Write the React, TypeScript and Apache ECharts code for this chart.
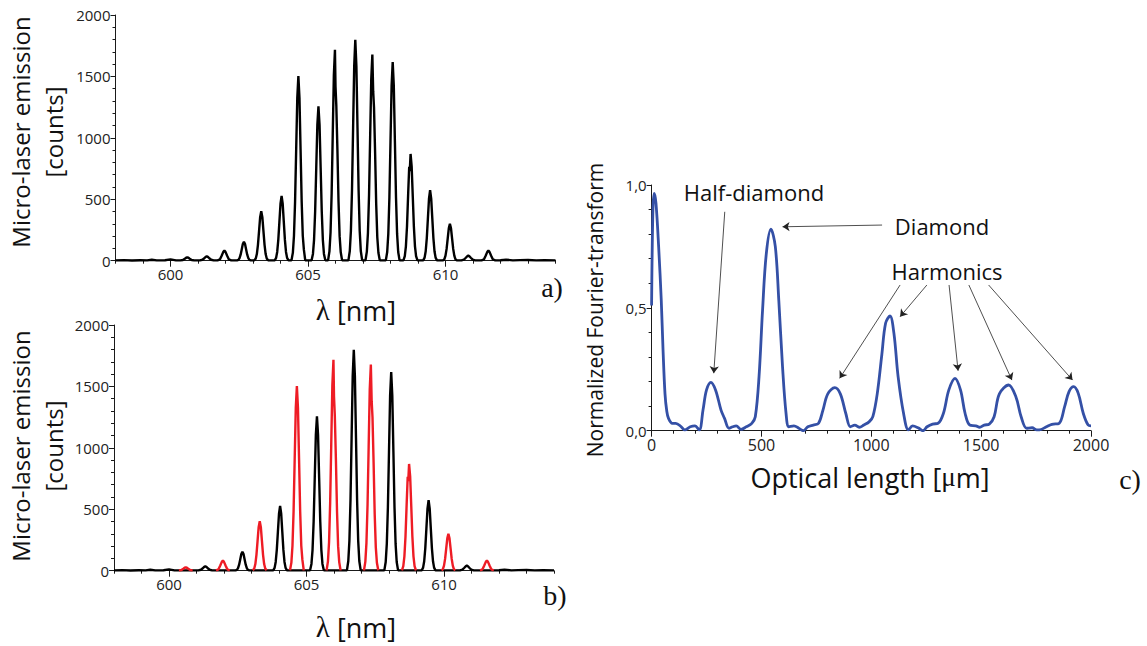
import React, { useEffect, useRef } from 'react';
import * as echarts from 'echarts';

// ---------- Panel a/b : emission spectrum (λ [nm], counts) ----------
const baseline: number[][] = [
  [598.0, 3], [598.3, 5], [598.6, 2], [598.9, 4], [599.15, 3], [599.32, 8], [599.5, 3],
  [599.8, 4], [600.0, 11], [600.2, 3],
  [612.0, 4], [612.2, 8], [612.45, 3], [612.7, 5], [613.0, 6], [613.3, 3], [613.6, 4], [614.0, 3],
];

// peaks drawn red in panel b
const redPeaks: number[][][] = [
  [[600.36, 3], [600.45, 6], [600.52, 16], [600.57, 24], [600.61, 27], [600.65, 24], [600.7, 16], [600.77, 6], [600.86, 3]],
  [[601.71, 3], [601.8, 11], [601.86, 40], [601.92, 72], [601.96, 82], [602.0, 72], [602.06, 40], [602.12, 11], [602.21, 3]],
  [[603.05, 3], [603.1, 18], [603.14, 54], [603.18, 129], [603.22, 241], [603.26, 354], [603.3, 402], [603.34, 354], [603.38, 241], [603.42, 129], [603.46, 54], [603.5, 18], [603.55, 3]],
  [[604.4, 3], [604.45, 66], [604.49, 203], [604.53, 481], [604.57, 902], [604.61, 1323], [604.65, 1503], [604.69, 1323], [604.73, 902], [604.77, 481], [604.81, 203], [604.85, 90], [604.9, 3]],
  [[605.73, 3], [605.78, 76], [605.82, 232], [605.86, 549], [605.9, 1030], [605.94, 1510], [605.98, 1716], [606.0, 1420], [606.03, 1260], [606.07, 900], [606.11, 480], [606.15, 200], [606.19, 70], [606.24, 3]],
  [[607.09, 3], [607.14, 74], [607.18, 227], [607.22, 537], [607.26, 1007], [607.3, 1477], [607.34, 1678], [607.37, 1380], [607.4, 1250], [607.44, 880], [607.48, 460], [607.52, 190], [607.56, 65], [607.61, 3]],
  [[608.47, 3], [608.52, 38], [608.56, 117], [608.6, 278], [608.645, 560], [608.68, 765], [608.7, 730], [608.73, 869], [608.77, 765], [608.81, 522], [608.85, 278], [608.89, 117], [608.93, 38], [608.98, 3]],
  [[609.91, 3], [609.96, 13], [610.0, 41], [610.04, 96], [610.08, 180], [610.12, 264], [610.16, 300], [610.2, 264], [610.24, 180], [610.28, 96], [610.32, 41], [610.36, 13], [610.41, 3]],
  [[611.31, 3], [611.4, 11], [611.46, 40], [611.52, 72], [611.56, 82], [611.6, 72], [611.66, 40], [611.72, 11], [611.81, 3]],
];

// peaks drawn black in panel b
const blackPeaks: number[][][] = [
  [[601.07, 3], [601.16, 8], [601.23, 20], [601.28, 31], [601.32, 35], [601.36, 31], [601.41, 20], [601.48, 8], [601.57, 3]],
  [[602.42, 3], [602.47, 7], [602.51, 21], [602.55, 49], [602.59, 92], [602.63, 135], [602.67, 153], [602.71, 135], [602.75, 92], [602.79, 49], [602.83, 21], [602.87, 7], [602.92, 3]],
  [[603.79, 3], [603.84, 23], [603.88, 71], [603.92, 169], [603.96, 316], [604.0, 464], [604.04, 527], [604.08, 464], [604.12, 316], [604.16, 169], [604.2, 71], [604.24, 23], [604.29, 3]],
  [[605.13, 3], [605.18, 55], [605.22, 170], [605.26, 402], [605.3, 754], [605.34, 1106], [605.38, 1257], [605.42, 1106], [605.46, 754], [605.5, 402], [605.54, 170], [605.58, 55], [605.63, 3]],
  [[606.47, 3], [606.52, 79], [606.56, 243], [606.6, 575], [606.64, 1079], [606.68, 1582], [606.72, 1798], [606.76, 1582], [606.8, 1079], [606.84, 575], [606.88, 243], [606.92, 79], [606.97, 3]],
  [[607.83, 3], [607.88, 71], [607.92, 218], [607.96, 517], [608.0, 970], [608.04, 1423], [608.08, 1617], [608.12, 1423], [608.16, 970], [608.2, 517], [608.24, 218], [608.28, 71], [608.33, 3]],
  [[609.19, 3], [609.24, 25], [609.28, 77], [609.32, 184], [609.36, 344], [609.4, 505], [609.44, 574], [609.48, 505], [609.52, 344], [609.56, 184], [609.6, 77], [609.64, 25], [609.69, 3]],
  [[610.58, 3], [610.67, 9], [610.74, 24], [610.79, 36], [610.83, 41], [610.87, 36], [610.92, 24], [610.99, 9], [611.08, 3]],
];

const lambdaLabels = [600, 605, 610];

// ---------- Panel c : normalized Fourier transform ----------
const fourier: number[][] = [
  [0, 0.51], [6, 0.9], [12, 0.966], [20, 0.925], [32, 0.75], [44, 0.53], [52, 0.33], [61, 0.15], [69, 0.08],
  [77, 0.05], [94, 0.03], [110, 0.03], [135, 0.016], [151, 0.003], [176, 0.016], [197, 0.02], [217, 0.003],
  [234, 0.084], [250, 0.166], [270, 0.197], [291, 0.166], [316, 0.084], [332, 0.05], [352, 0.01], [369, 0.016],
  [385, 0.02], [407, 0.005], [431, 0.016], [456, 0.03], [472, 0.057], [489, 0.22], [505, 0.49], [522, 0.72],
  [543, 0.82], [563, 0.75], [579, 0.53], [596, 0.26], [612, 0.07], [625, 0.016], [648, 0.02], [670, 0.01],
  [691, 0.0], [711, 0.016], [736, 0.023], [760, 0.03], [780, 0.084], [802, 0.15], [834, 0.175], [859, 0.15],
  [884, 0.07], [905, 0.016], [925, 0.023], [945, 0.014], [966, 0.023], [991, 0.037], [1007, 0.057],
  [1027, 0.15], [1048, 0.31], [1065, 0.437], [1085, 0.467], [1103, 0.396], [1122, 0.22], [1147, 0.07],
  [1169, 0.003], [1188, 0.02], [1213, 0.012], [1235, 0.0], [1254, 0.016], [1279, 0.027], [1304, 0.03],
  [1328, 0.07], [1353, 0.166], [1381, 0.213], [1406, 0.166], [1427, 0.07], [1448, 0.023], [1476, 0.02],
  [1493, 0.014], [1514, 0.023], [1537, 0.027], [1559, 0.057], [1583, 0.15], [1625, 0.186], [1658, 0.138],
  [1682, 0.057], [1707, 0.01], [1732, 0.012], [1753, 0.003], [1773, 0.005], [1797, 0.016], [1822, 0.026],
  [1855, 0.03], [1880, 0.098], [1900, 0.159], [1921, 0.179], [1942, 0.152], [1965, 0.07], [1987, 0.023],
  [2000, 0.02],
];

// arrows: [fromX, fromY, toX, toY] in data units
const arrows: number[][] = [
  [333, 0.891, 283, 0.234],
  [1049, 0.837, 596, 0.83],
  [1131, 0.593, 856, 0.213],
  [1253, 0.593, 1131, 0.464],
  [1354, 0.593, 1395, 0.244],
  [1444, 0.593, 1640, 0.206],
  [1534, 0.593, 1916, 0.206],
];

const FONT = "'Open Sans', 'Noto Sans', sans-serif";
const SERIF = "'Liberation Serif', 'DejaVu Serif', serif";
const AX = '#1a1a1a';

const sortX = (pts: number[][]) => pts.slice().sort((p, q) => p[0] - q[0]);
const plain = (v: number) => String(v);

export default function App() {
  const ref = useRef<HTMLDivElement>(null);
  useEffect(() => {
    if (!ref.current) return;
    const chart = echarts.init(ref.current, null, { renderer: 'svg' });

    const allPeaks = [...redPeaks, ...blackPeaks].flat();
    const fullSpectrum = sortX([...baseline, ...allPeaks]);
    const blackSpectrum = sortX([...baseline, ...blackPeaks.flat(),
      ...redPeaks.map((p) => p[0]), ...redPeaks.map((p) => p[p.length - 1])]);

    const lambdaAxisMain = (grid: number) => ({
      type: 'value', gridIndex: grid, position: 'bottom', min: 598, max: 614,
      axisLine: { show: true, onZero: false, lineStyle: { color: AX, width: 1 } },
      axisTick: { show: true, customValues: lambdaLabels, length: 6, lineStyle: { color: AX } },
      axisLabel: { customValues: lambdaLabels, formatter: plain, fontFamily: FONT, fontSize: 15, color: '#222', margin: 6 },
      splitLine: { show: false },
    });
    const lambdaAxisMinor = (grid: number) => ({
      type: 'value', gridIndex: grid, position: 'bottom', min: 598, max: 614, interval: 1,
      axisLine: { show: false, onZero: false },
      axisTick: { show: true, length: 3, lineStyle: { color: AX } },
      axisLabel: { show: false },
      splitLine: { show: false },
    });
    const countsAxis = (grid: number) => ({
      type: 'value', gridIndex: grid, min: 0, max: 2000, interval: 500,
      axisLine: { show: true, lineStyle: { color: AX, width: 1 } },
      axisTick: { show: true, length: 5, lineStyle: { color: AX } },
      minorTick: { show: true, splitNumber: 5, length: 3, lineStyle: { color: AX } },
      axisLabel: { formatter: plain, fontFamily: FONT, fontSize: 15, color: '#222', margin: 5 },
      splitLine: { show: false },
    });

    const lineBase = { type: 'line', showSymbol: false, symbol: 'none', smooth: false, animation: false };

    const redSeries = redPeaks.map((p) => ({
      ...lineBase, xAxisIndex: 3, yAxisIndex: 1, data: p, z: 5,
      lineStyle: { color: '#EE1C25', width: 2.4 },
    }));

    const textStyle = (size: number, font = FONT) => ({ fontFamily: font, fontSize: size, fill: '#111', align: 'center', verticalAlign: 'middle' });
    const greek = (size: number) => ({ g: { fontFamily: SERIF, fontSize: size + 2, fill: '#111' } });

    chart.setOption({
      animation: false,
      backgroundColor: '#fff',
      grid: [
        { left: 115.5, top: 15, width: 440, height: 245.7 },
        { left: 114, top: 325, width: 440, height: 245.7 },
        { left: 651.6, top: 185, width: 439.4, height: 245.7 },
      ],
      xAxis: [
        lambdaAxisMain(0), lambdaAxisMinor(0),
        lambdaAxisMain(1), lambdaAxisMinor(1),
        {
          type: 'value', gridIndex: 2, min: 0, max: 2000, interval: 500,
          axisLine: { show: true, onZero: false, lineStyle: { color: AX } },
          axisTick: { show: true, length: 6, lineStyle: { color: AX } },
          minorTick: { show: true, splitNumber: 5, length: 3, lineStyle: { color: AX } },
          axisLabel: { formatter: plain, fontFamily: FONT, fontSize: 16, color: '#222', margin: 6 },
          splitLine: { show: false },
        },
      ],
      yAxis: [
        countsAxis(0), countsAxis(1),
        {
          type: 'value', gridIndex: 2, min: 0, max: 1, interval: 0.5,
          axisLine: { show: true, lineStyle: { color: AX } },
          axisTick: { show: true, length: 5, lineStyle: { color: AX } },
          minorTick: { show: true, splitNumber: 5, length: 3, lineStyle: { color: AX } },
          axisLabel: {
            fontFamily: FONT, fontSize: 15, color: '#222', margin: 5,
            formatter: (v: number) => v.toFixed(1).replace('.', ','),
          },
          splitLine: { show: false },
        },
      ],
      series: [
        { ...lineBase, xAxisIndex: 0, yAxisIndex: 0, data: fullSpectrum, lineStyle: { color: '#000', width: 2.4 } },
        { ...lineBase, xAxisIndex: 2, yAxisIndex: 1, data: blackSpectrum, lineStyle: { color: '#000', width: 2.4 } },
        ...redSeries,
        {
          ...lineBase, xAxisIndex: 4, yAxisIndex: 2, data: fourier, smooth: 0.35,
          lineStyle: { color: '#3450A6', width: 2.8 },
          markLine: {
            silent: true, animation: false, symbol: ['none', 'arrow'], symbolSize: 7,
            label: { show: false },
            lineStyle: { color: '#222', width: 0.8, type: 'solid' },
            data: arrows.map((a) => [{ coord: [a[0], a[1]] }, { coord: [a[2], a[3]] }]),
          },
        },
      ],
      graphic: [
        { type: 'text', x: 20, y: 132, rotation: Math.PI / 2, style: { text: 'Micro-laser emission', ...textStyle(24) } },
        { type: 'text', x: 53, y: 132, rotation: Math.PI / 2, style: { text: '[counts]', ...textStyle(24) } },
        { type: 'text', x: 20, y: 446, rotation: Math.PI / 2, style: { text: 'Micro-laser emission', ...textStyle(24) } },
        { type: 'text', x: 53, y: 446, rotation: Math.PI / 2, style: { text: '[counts]', ...textStyle(24) } },
        { type: 'text', x: 356, y: 310, style: { text: '{g|λ} [nm]', rich: greek(27), ...textStyle(27) } },
        { type: 'text', x: 356, y: 627, style: { text: '{g|λ} [nm]', rich: greek(27), ...textStyle(27) } },
        { type: 'text', x: 552, y: 287, style: { text: 'a)', ...textStyle(28, SERIF) } },
        { type: 'text', x: 555, y: 595, style: { text: 'b)', ...textStyle(28, SERIF) } },
        { type: 'text', x: 1130, y: 479, style: { text: 'c)', ...textStyle(28, SERIF) } },
        { type: 'text', x: 595, y: 310, rotation: Math.PI / 2, style: { text: 'Normalized Fourier-transform', ...textStyle(21) } },
        { type: 'text', x: 870, y: 477, style: { text: 'Optical length [{g|μ}m]', rich: greek(25), ...textStyle(27) } },
        { type: 'text', x: 754, y: 192, style: { text: 'Half-diamond', ...textStyle(22) } },
        { type: 'text', x: 942, y: 226, style: { text: 'Diamond', ...textStyle(22) } },
        { type: 'text', x: 947, y: 271, style: { text: 'Harmonics', ...textStyle(22) } },
      ],
    });
    return () => chart.dispose();
  }, []);
  return <div ref={ref} style={{ position: 'fixed', left: 0, top: 0, width: 1147, height: 646, background: '#fff' }} />;
}
